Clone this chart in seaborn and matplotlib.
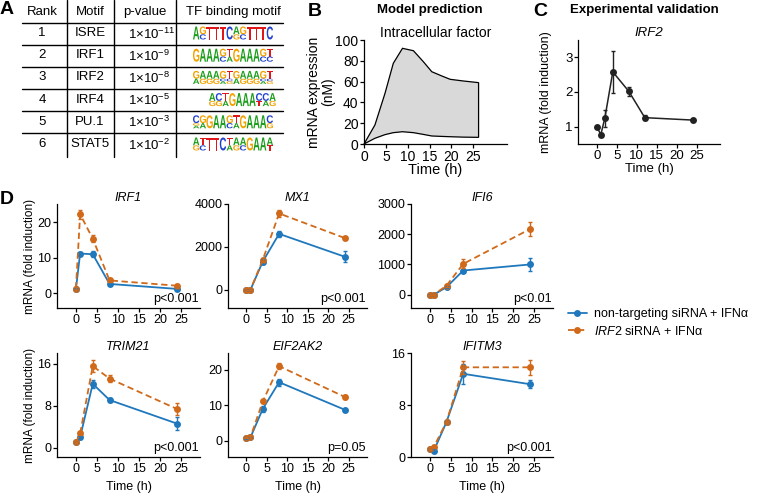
import matplotlib
matplotlib.use("Agg")
import matplotlib.pyplot as plt
from matplotlib.font_manager import FontProperties
from matplotlib.textpath import TextPath
from matplotlib.patches import PathPatch
from matplotlib.transforms import Affine2D
import numpy as np
import pandas as pd
import seaborn as sns

# ---- panel A: motif enrichment table ----
ranks = [1, 2, 3, 4, 5, 6]
motifs = ["ISRE", "IRF1", "IRF2", "IRF4", "PU.1", "STAT5"]
p_exponents = [-11, -9, -8, -5, -3, -2]
# logo columns: top letter first (dominant), smaller letters stacked below
logo_columns = [
    "A|GC|T|T|T|C|AG|GC|T|T|T|C",
    "G|A|A|A|GC|TA|G|A|A|A|GC|TC",
    "GA|AG|AG|AG|GCA|TCG|GA|AG|AG|AG|GCA|TCG",
    "AG|CG|TA|G|A|A|A|CT|CA|AG",
    "CGA|GA|G|A|A|GC|TA|G|A|A|A|CG",
    "AG|TC|T|T|C|TA|AG|AC|G|A|A|AT",
]
logo_offsets = [0, 0, 0, 2.4, 0, 0]
base_colors = {"A": "#1c9e1c", "C": "#2040d0", "G": "#f2a200", "T": "#e0161b"}

# ---- panel B: model prediction envelope ----
model_time = [0, 2.5, 4.8, 6.7, 8.8, 11.3, 13.6, 15.5, 17.8, 19.7, 22.7, 26.2]
model_upper = [0, 18.3, 48.7, 77.6, 92, 89.7, 79, 69.5, 65.4, 62.2, 60.6, 59]
model_lower = [0, 5.5, 9, 10.9, 11.8, 10.9, 9.2, 7.7, 7.3, 7.0, 6.6, 6.4]

# ---- panel C: IRF2 time course ----
irf2_time = [0, 1, 2, 4, 8, 12, 24]
irf2_mean = [1.0, 0.77, 1.24, 2.58, 2.02, 1.26, 1.19]
irf2_err = [0.03, 0.04, 0.25, 0.6, 0.13, 0.08, 0.04]

# ---- panel D: knock-down time courses ----
d_time = [0, 1, 4, 8, 24]
genes = ["IRF1", "MX1", "IFI6", "TRIM21", "EIF2AK2", "IFITM3"]
ctrl_means = [
    [1.2, 11.2, 11.0, 2.6, 1.2],
    [0, 10, 1320, 2610, 1550],
    [0, 5, 250, 800, 1000],
    [1.0, 2.0, 12.2, 9.1, 4.6],
    [0.8, 1.0, 9.0, 16.5, 8.8],
    [1.2, 1.0, 5.4, 12.8, 11.2],
]
ctrl_errs = [
    [0.2, 0.5, 0.8, 0.3, 0.3],
    [5, 5, 100, 150, 250],
    [5, 5, 40, 40, 210],
    [0.1, 0.3, 0.8, 0.3, 1.2],
    [0.2, 0.2, 0.8, 1.0, 0.3],
    [0.1, 0.2, 0.2, 1.5, 0.6],
]
kd_means = [
    [1.3, 22.3, 15.4, 3.6, 2.1],
    [0, 10, 1400, 3560, 2420],
    [0, 5, 300, 1020, 2170],
    [1.0, 2.7, 15.6, 13.2, 7.4],
    [0.9, 1.1, 11.1, 21.0, 12.4],
    [1.2, 1.6, 5.4, 13.8, 13.8],
]
kd_errs = [
    [0.3, 1.2, 1.0, 0.4, 0.6],
    [5, 5, 100, 150, 60],
    [5, 5, 40, 150, 230],
    [0.1, 0.3, 1.2, 0.6, 1.2],
    [0.2, 0.2, 0.4, 0.8, 0.5],
    [0.1, 0.2, 0.2, 1.0, 1.2],
]
p_texts = ["p<0.001", "p<0.001", "p<0.01", "p<0.001", "p=0.05", "p<0.001"]
gene_yticks = [[0, 10, 20], [0, 2000, 4000], [0, 1000, 2000, 3000],
               [0, 8, 16], [0, 10, 20], [0, 8, 16]]
gene_ylims = [(-4.2, 25.2), (-840, 4000), (-440, 3000),
              (-1.8, 18.1), (-4.5, 24.7), (0, 16)]
cond_labels = ["non-targeting siRNA + IFN\u03b1", "$\\mathit{IRF2}$ siRNA + IFN\u03b1"]
cond_colors = ["#1f78bc", "#d06a1a"]
time_ticks = [0, 5, 10, 15, 20, 25]

sns.set_theme(style="ticks")
plt.rcParams["font.family"] = ["Liberation Sans", "DejaVu Sans"]
plt.rcParams["mathtext.fontset"] = "custom"
plt.rcParams["mathtext.rm"] = "Liberation Sans"
plt.rcParams["mathtext.it"] = "Liberation Sans:italic"
plt.rcParams["mathtext.bf"] = "Liberation Sans:bold"
plt.rcParams["text.color"] = "black"
plt.rcParams["axes.labelcolor"] = "black"
plt.rcParams["xtick.color"] = "black"
plt.rcParams["ytick.color"] = "black"

W, H = 762, 493
fig = plt.figure(figsize=(W / 100, H / 100), dpi=100)


def px_axes(x0, y0, x1, y1):
    return fig.add_axes([x0 / W, 1 - y1 / H, (x1 - x0) / W, (y1 - y0) / H])


def style_axes(ax, fs):
    sns.despine(ax=ax)
    for side in ("left", "bottom"):
        ax.spines[side].set_linewidth(0.9)
        ax.spines[side].set_color("black")
    ax.tick_params(length=3, width=0.9, labelsize=fs, pad=1)


def fig_text(x, y, s, **kw):
    fig.text(x / W, 1 - y / H, s, ha="center", va="center", **kw)


# ---------------- A ----------------
ax_a = fig.add_axes([0, 0, 1, 1])
ax_a.set_xlim(0, W)
ax_a.set_ylim(H, 0)
ax_a.axis("off")

for yl in [23, 44.5, 67, 89, 111, 133]:
    ax_a.plot([22, 283], [yl, yl], color="black", lw=1)
for xl in [67, 114, 176]:
    ax_a.plot([xl, xl], [0, 157], color="black", lw=1)

fs_tab = 9.5
ax_a.text(42, 12, "Rank", ha="center", va="center", fontsize=fs_tab)
ax_a.text(90, 12, "Motif", ha="center", va="center", fontsize=fs_tab)
ax_a.text(145, 12, "p-value", ha="center", va="center", fontsize=fs_tab)
ax_a.text(233, 12, "TF binding motif", ha="center", va="center", fontsize=fs_tab)

fp_logo = FontProperties(family="Liberation Sans", weight="bold")
letter_w, logo_h = 6.7, 13.0
for i, (rk, mo, ex, cols, off) in enumerate(
        zip(ranks, motifs, p_exponents, logo_columns, logo_offsets)):
    yc = 33 + 22.2 * i
    ax_a.text(42, yc, str(rk), ha="center", va="center", fontsize=fs_tab)
    ax_a.text(90, yc, mo, ha="center", va="center", fontsize=fs_tab)
    ax_a.text(128, yc + 1, f"1\u00d710$^{{{ex}}}$", ha="left", va="center",
              fontsize=fs_tab)
    for j, col in enumerate(cols.split("|")):
        x_left = 193 + (off + j) * letter_w
        if len(col) == 1:
            fracs = [1.0]
        else:
            fracs = [0.6] + [0.4 / (len(col) - 1)] * (len(col) - 1)
        y_top = yc - logo_h / 2
        for ch, fr in zip(col, fracs):
            hh = fr * logo_h
            tp = TextPath((0, 0), ch, size=1, prop=fp_logo)
            bb = tp.get_extents()
            tr = (Affine2D().translate(-bb.x0, -bb.y0)
                  .scale(letter_w * 0.95 / bb.width, -hh / bb.height)
                  .translate(x_left, y_top + hh))
            ax_a.add_patch(PathPatch(tr.transform_path(tp),
                                     fc=base_colors[ch], lw=0))
            y_top += hh

# ---------------- B ----------------
ax_b = px_axes(364, 40, 507, 144)
x_poly = model_time + model_time[::-1]
y_poly = model_upper + model_lower[::-1]
ax_b.fill(x_poly, y_poly, facecolor="#d9d9d9", edgecolor="black", lw=0.9,
          clip_on=False)
ax_b.set_xlim(0, 32.7)
ax_b.set_ylim(0, 100)
ax_b.set_xticks(time_ticks)
ax_b.set_yticks([0, 20, 40, 60, 80, 100])
style_axes(ax_b, 10)
ax_b.set_title("Intracellular factor", fontsize=10, pad=2)
ax_b.set_xlabel("Time (h)", fontsize=10.5)
ax_b.xaxis.set_label_coords(0.5, -0.18)
ax_b.set_ylabel("mRNA expression\n(nM)", fontsize=10, linespacing=1.0)
ax_b.yaxis.set_label_coords(-0.2, 0.5)

# ---------------- C ----------------
ax_c = px_axes(578, 40, 720, 144)
df_c = pd.DataFrame({"time": irf2_time, "mean": irf2_mean})
sns.lineplot(data=df_c, x="time", y="mean", color="#222222", lw=1.1,
             marker="o", markersize=5, markeredgewidth=0, errorbar=None, ax=ax_c)
ax_c.errorbar(irf2_time, irf2_mean, yerr=irf2_err, fmt="none",
              ecolor="#222222", elinewidth=1, capsize=1.5, capthick=1)
ax_c.set_xlim(-4.7, 30.8)
ax_c.set_ylim(0.5, 3.5)
ax_c.set_xticks(time_ticks)
ax_c.set_yticks([1, 2, 3])
style_axes(ax_c, 9.5)
ax_c.set_title("IRF2", fontsize=9.5, style="italic", pad=3)
ax_c.set_xlabel("Time (h)", fontsize=9.5)
ax_c.xaxis.set_label_coords(0.5, -0.185)
ax_c.set_ylabel("mRNA (fold induction)", fontsize=9)
ax_c.yaxis.set_label_coords(-0.18, 0.5)

# ---------------- D ----------------
col_x = [(57, 200), (228, 367), (411, 553)]
row_y = [(204, 308), (353, 457)]
d_axes = []
for k, gene in enumerate(genes):
    r, c = divmod(k, 3)
    ax = px_axes(col_x[c][0], row_y[r][0], col_x[c][1], row_y[r][1])
    d_axes.append(ax)
    df = pd.DataFrame({
        "time": d_time * 2,
        "mean": ctrl_means[k] + kd_means[k],
        "condition": [cond_labels[0]] * len(d_time) + [cond_labels[1]] * len(d_time),
    })
    sns.lineplot(data=df, x="time", y="mean", hue="condition", style="condition",
                 hue_order=cond_labels, style_order=cond_labels,
                 palette=dict(zip(cond_labels, cond_colors)),
                 dashes={cond_labels[0]: "", cond_labels[1]: (3.5, 2)},
                 markers={cond_labels[0]: "o", cond_labels[1]: "o"},
                 markersize=5, markeredgewidth=0, lw=1.3, errorbar=None,
                 legend=(k == 0), ax=ax)
    for means, errs, colr in [(ctrl_means[k], ctrl_errs[k], cond_colors[0]),
                              (kd_means[k], kd_errs[k], cond_colors[1])]:
        ax.errorbar(d_time, means, yerr=errs, fmt="none", ecolor=colr,
                    elinewidth=1, capsize=1.5, capthick=1)
    ax.set_xlim(-4.5, 29.5)
    ax.set_ylim(*gene_ylims[k])
    ax.set_xticks(time_ticks)
    ax.set_yticks(gene_yticks[k])
    style_axes(ax, 9)
    ax.set_title(gene, fontsize=9, style="italic", pad=2)
    ax.text(0.99, 0.055, p_texts[k], transform=ax.transAxes, ha="right",
            va="baseline", fontsize=9)
    ax.set_xlabel("Time (h)" if r == 1 else "", fontsize=9)
    ax.xaxis.set_label_coords(0.5, -0.23)
    ax.set_ylabel("mRNA (fold induction)" if c == 0 else "", fontsize=8.5)
    ax.yaxis.set_label_coords(-0.15, 0.5)

handles, labels = d_axes[0].get_legend_handles_labels()
d_axes[0].get_legend().remove()
fig.legend(handles, labels, loc="center left",
           bbox_to_anchor=(568 / W, 1 - 323 / H), frameon=False, fontsize=9,
           handlelength=1.5, handletextpad=0.6, labelspacing=0.35,
           borderpad=0, borderaxespad=0)

# titles and panel letters
fig_text(430, 10, "Model prediction", fontsize=9.5, weight="bold")
fig_text(644, 10, "Experimental validation", fontsize=9.5, weight="bold")
for letter, lx, ly in [("A", 7, 9), ("B", 315, 11), ("C", 540, 11), ("D", 7, 199)]:
    fig_text(lx, ly, letter, fontsize=14, weight="bold")

fig.savefig("out.png", dpi=100)
plt.close(fig)
